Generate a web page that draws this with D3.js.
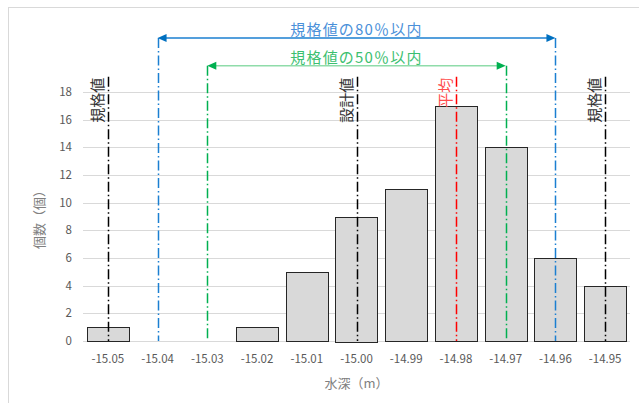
<!DOCTYPE html>
<html>
<head>
<meta charset="utf-8">
<script src="https://cdn.jsdelivr.net/npm/d3@7"></script>
<style>
    body { margin: 0; background: #fff; }
    text { font-family: "Noto Sans CJK JP", "DejaVu Sans", sans-serif; }
</style>
</head>
<body>
<div class="container"></div>
<script>
// histogram data
let depths = ["-15.05", "-15.04", "-15.03", "-15.02", "-15.01", "-15.00", "-14.99", "-14.98", "-14.97", "-14.96", "-14.95"];
let counts = [1, 0, 0, 1, 5, 9, 11, 17, 14, 6, 4];
let yTicks = [0, 2, 4, 6, 8, 10, 12, 14, 16, 18];

// reference lines (category, top in count units)
let specLines = ["-15.05", "-14.95"];
let designLine = "-15.00";
let meanLine = "-14.98";
let range80 = ["-15.04", "-14.96"];
let range50 = ["-15.03", "-14.97"];
let labelTop = 19.1;
let top80 = 21.9;
let top50 = 19.9;

let margin = { top: 92, right: 9, bottom: 62, left: 83 };
let width = 639 - margin.left - margin.right;
let height = 403 - margin.top - margin.bottom;

let svg = d3.select(".container")
    .append("svg")
    .attr("width", 639)
    .attr("height", 403);

// chart border
svg.append("rect")
    .attr("x", 8.5)
    .attr("y", 7.5)
    .attr("width", 700)
    .attr("height", 500)
    .attr("fill", "none")
    .attr("stroke", "#d9d9d9");

let g = svg.append("g")
    .attr("transform", "translate(" + margin.left + "," + margin.top + ")");

let x = d3.scaleBand()
    .domain(depths)
    .range([0, width])
    .paddingInner(0.15)
    .paddingOuter(0.075);

let y = d3.scaleLinear()
    .domain([0, 18])
    .range([height, 0]);

let cx = function (d) { return x(d) + x.bandwidth() / 2; };

// gridlines
g.append("g")
    .selectAll("line")
    .data(yTicks)
    .enter()
    .append("line")
    .attr("x1", 0)
    .attr("x2", width)
    .attr("y1", d => Math.round(y(d)) + 0.5)
    .attr("y2", d => Math.round(y(d)) + 0.5)
    .attr("stroke", "#d9d9d9");

// y tick labels
g.append("g")
    .selectAll("text")
    .data(yTicks)
    .enter()
    .append("text")
    .attr("x", -11)
    .attr("y", d => y(d))
    .attr("dy", "0.35em")
    .attr("text-anchor", "end")
    .attr("font-size", 11.5)
    .attr("fill", "#595959")
    .text(d => d);

// bars
g.append("g")
    .selectAll("rect")
    .data(depths)
    .enter()
    .filter((d, i) => counts[i] > 0)
    .append("rect")
    .attr("x", d => Math.round(x(d)) + 0.5)
    .attr("y", d => Math.round(y(counts[depths.indexOf(d)])) + 0.5)
    .attr("width", Math.round(x.bandwidth()))
    .attr("height", d => Math.round(height - y(counts[depths.indexOf(d)])))
    .attr("fill", "#d9d9d9")
    .attr("stroke", "#262626");

// x tick labels
g.append("g")
    .selectAll("text")
    .data(depths)
    .enter()
    .append("text")
    .attr("x", d => cx(d))
    .attr("y", height + 22)
    .attr("text-anchor", "middle")
    .attr("font-size", 11.5)
    .attr("fill", "#595959")
    .text(d => d);

// axis titles
svg.append("text")
    .attr("x", margin.left + width / 2)
    .attr("y", 388)
    .attr("text-anchor", "middle")
    .attr("font-size", 13)
    .attr("fill", "#808080")
    .text("水深（m）");

svg.append("text")
    .attr("transform", "translate(44," + (margin.top + height / 2) + ") rotate(-90)")
    .attr("text-anchor", "middle")
    .attr("font-size", 13)
    .attr("fill", "#808080")
    .text("個数（個）");

// vertical dash-dot lines
const vline = (cat, top, color) => {
    g.append("line")
        .attr("x1", Math.round(cx(cat)) + 0.5)
        .attr("x2", Math.round(cx(cat)) + 0.5)
        .attr("y1", y(top))
        .attr("y2", height)
        .attr("stroke", color)
        .attr("stroke-width", 1.5)
        .attr("stroke-dasharray", "10,3,1.5,3");
};

const vlabel = (cat, txt, color) => {
    g.append("text")
        .attr("transform", "translate(" + (cx(cat) - 5) + "," + (y(labelTop) + 1) + ") rotate(-90)")
        .attr("text-anchor", "end")
        .attr("font-size", 15)
        .attr("fill", color)
        .text(txt);
};

specLines.forEach(d => {
    vline(d, labelTop, "#000");
    vlabel(d, "規格値", "#333");
});
vline(designLine, labelTop, "#000");
vlabel(designLine, "設計値", "#333");
vline(meanLine, labelTop, "#ff0000");
vlabel(meanLine, "平均", "#ff4d4d");

range80.forEach(d => vline(d, top80, "#1b7fd1"));
range50.forEach(d => vline(d, top50, "#00b050"));

// range arrows
const arrow = (cats, top, lineColor, headColor, txtColor, txt) => {
    let x1 = cx(cats[0]), x2 = cx(cats[1]), yy = y(top);
    g.append("line")
        .attr("x1", x1 + 6)
        .attr("x2", x2 - 6)
        .attr("y1", yy)
        .attr("y2", yy)
        .attr("stroke", lineColor)
        .attr("stroke-width", 1.5);
    g.append("path")
        .attr("d", "M" + x1 + "," + yy + "L" + (x1 + 9) + "," + (yy - 4) + "L" + (x1 + 9) + "," + (yy + 4) + "Z")
        .attr("fill", headColor);
    g.append("path")
        .attr("d", "M" + x2 + "," + yy + "L" + (x2 - 9) + "," + (yy - 4) + "L" + (x2 - 9) + "," + (yy + 4) + "Z")
        .attr("fill", headColor);
    g.append("text")
        .attr("x", (x1 + x2) / 2)
        .attr("y", yy - 3)
        .attr("text-anchor", "middle")
        .attr("font-size", 15)
        .attr("letter-spacing", 1.2)
        .attr("fill", txtColor)
        .text(txt);
};

arrow(range80, top80, "#1b7fd1", "#0070c0", "#4a90d9", "規格値の80％以内");
arrow(range50, top50, "#8fdcaa", "#00b050", "#3cc070", "規格値の50％以内");
</script>
</body>
</html>
